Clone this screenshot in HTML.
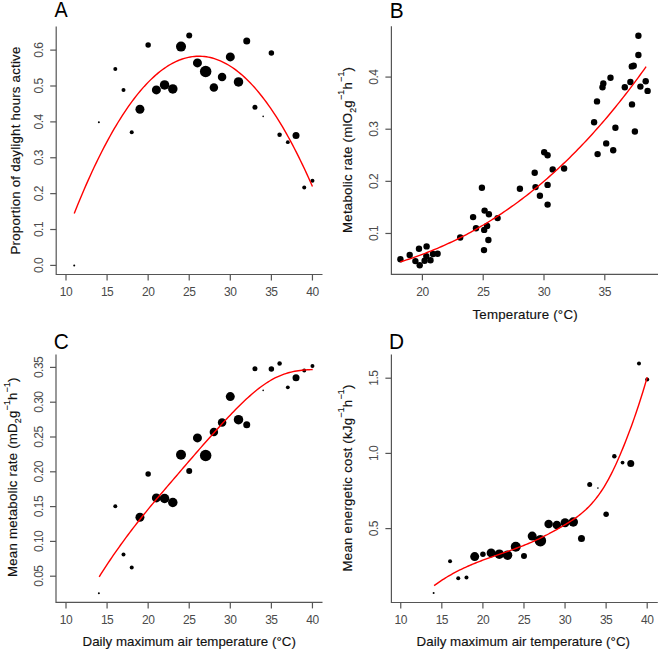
<!DOCTYPE html>
<html><head><meta charset="utf-8"><style>
html,body{margin:0;padding:0;background:#fff;}
body{width:660px;height:651px;overflow:hidden;font-family:"Liberation Sans", sans-serif;}
svg{display:block;}
svg text{font-family:"Liberation Sans", sans-serif;}
</style></head><body>
<svg width="660" height="651" viewBox="0 0 660 651">
<path d="M56.2,26.6 L56.2,274.5 L322.5,274.5" fill="none" stroke="#555" stroke-width="1.2"/>
<line x1="66.00" y1="274.5" x2="66.00" y2="280.5" stroke="#555" stroke-width="1.2"/>
<text x="66.00" y="296" font-size="12" letter-spacing="-0.5" text-anchor="middle" fill="#4a4a4a">10</text>
<line x1="107.08" y1="274.5" x2="107.08" y2="280.5" stroke="#555" stroke-width="1.2"/>
<text x="107.08" y="296" font-size="12" letter-spacing="-0.5" text-anchor="middle" fill="#4a4a4a">15</text>
<line x1="148.15" y1="274.5" x2="148.15" y2="280.5" stroke="#555" stroke-width="1.2"/>
<text x="148.15" y="296" font-size="12" letter-spacing="-0.5" text-anchor="middle" fill="#4a4a4a">20</text>
<line x1="189.22" y1="274.5" x2="189.22" y2="280.5" stroke="#555" stroke-width="1.2"/>
<text x="189.22" y="296" font-size="12" letter-spacing="-0.5" text-anchor="middle" fill="#4a4a4a">25</text>
<line x1="230.30" y1="274.5" x2="230.30" y2="280.5" stroke="#555" stroke-width="1.2"/>
<text x="230.30" y="296" font-size="12" letter-spacing="-0.5" text-anchor="middle" fill="#4a4a4a">30</text>
<line x1="271.38" y1="274.5" x2="271.38" y2="280.5" stroke="#555" stroke-width="1.2"/>
<text x="271.38" y="296" font-size="12" letter-spacing="-0.5" text-anchor="middle" fill="#4a4a4a">35</text>
<line x1="312.45" y1="274.5" x2="312.45" y2="280.5" stroke="#555" stroke-width="1.2"/>
<text x="312.45" y="296" font-size="12" letter-spacing="-0.5" text-anchor="middle" fill="#4a4a4a">40</text>
<line x1="50.2" y1="265.40" x2="56.2" y2="265.40" stroke="#555" stroke-width="1.2"/>
<text transform="translate(42.5,265.40) rotate(-90)" font-size="12" letter-spacing="-0.5" text-anchor="middle" fill="#4a4a4a">0.0</text>
<line x1="50.2" y1="229.52" x2="56.2" y2="229.52" stroke="#555" stroke-width="1.2"/>
<text transform="translate(42.5,229.52) rotate(-90)" font-size="12" letter-spacing="-0.5" text-anchor="middle" fill="#4a4a4a">0.1</text>
<line x1="50.2" y1="193.64" x2="56.2" y2="193.64" stroke="#555" stroke-width="1.2"/>
<text transform="translate(42.5,193.64) rotate(-90)" font-size="12" letter-spacing="-0.5" text-anchor="middle" fill="#4a4a4a">0.2</text>
<line x1="50.2" y1="157.76" x2="56.2" y2="157.76" stroke="#555" stroke-width="1.2"/>
<text transform="translate(42.5,157.76) rotate(-90)" font-size="12" letter-spacing="-0.5" text-anchor="middle" fill="#4a4a4a">0.3</text>
<line x1="50.2" y1="121.88" x2="56.2" y2="121.88" stroke="#555" stroke-width="1.2"/>
<text transform="translate(42.5,121.88) rotate(-90)" font-size="12" letter-spacing="-0.5" text-anchor="middle" fill="#4a4a4a">0.4</text>
<line x1="50.2" y1="86.00" x2="56.2" y2="86.00" stroke="#555" stroke-width="1.2"/>
<text transform="translate(42.5,86.00) rotate(-90)" font-size="12" letter-spacing="-0.5" text-anchor="middle" fill="#4a4a4a">0.5</text>
<line x1="50.2" y1="50.12" x2="56.2" y2="50.12" stroke="#555" stroke-width="1.2"/>
<text transform="translate(42.5,50.12) rotate(-90)" font-size="12" letter-spacing="-0.5" text-anchor="middle" fill="#4a4a4a">0.6</text>
<path d="M391.4,26.3 L391.4,274.3 L658,274.3" fill="none" stroke="#555" stroke-width="1.2"/>
<line x1="422.40" y1="274.3" x2="422.40" y2="280.3" stroke="#555" stroke-width="1.2"/>
<text x="422.40" y="296" font-size="12" letter-spacing="-0.5" text-anchor="middle" fill="#4a4a4a">20</text>
<line x1="483.20" y1="274.3" x2="483.20" y2="280.3" stroke="#555" stroke-width="1.2"/>
<text x="483.20" y="296" font-size="12" letter-spacing="-0.5" text-anchor="middle" fill="#4a4a4a">25</text>
<line x1="544.00" y1="274.3" x2="544.00" y2="280.3" stroke="#555" stroke-width="1.2"/>
<text x="544.00" y="296" font-size="12" letter-spacing="-0.5" text-anchor="middle" fill="#4a4a4a">30</text>
<line x1="604.80" y1="274.3" x2="604.80" y2="280.3" stroke="#555" stroke-width="1.2"/>
<text x="604.80" y="296" font-size="12" letter-spacing="-0.5" text-anchor="middle" fill="#4a4a4a">35</text>
<line x1="385.4" y1="233.47" x2="391.4" y2="233.47" stroke="#555" stroke-width="1.2"/>
<text transform="translate(378,233.47) rotate(-90)" font-size="12" letter-spacing="-0.5" text-anchor="middle" fill="#4a4a4a">0.1</text>
<line x1="385.4" y1="181.34" x2="391.4" y2="181.34" stroke="#555" stroke-width="1.2"/>
<text transform="translate(378,181.34) rotate(-90)" font-size="12" letter-spacing="-0.5" text-anchor="middle" fill="#4a4a4a">0.2</text>
<line x1="385.4" y1="129.21" x2="391.4" y2="129.21" stroke="#555" stroke-width="1.2"/>
<text transform="translate(378,129.21) rotate(-90)" font-size="12" letter-spacing="-0.5" text-anchor="middle" fill="#4a4a4a">0.3</text>
<line x1="385.4" y1="77.08" x2="391.4" y2="77.08" stroke="#555" stroke-width="1.2"/>
<text transform="translate(378,77.08) rotate(-90)" font-size="12" letter-spacing="-0.5" text-anchor="middle" fill="#4a4a4a">0.4</text>
<path d="M56.0,354.5 L56.0,602.4 L322.5,602.4" fill="none" stroke="#555" stroke-width="1.2"/>
<line x1="66.00" y1="602.4" x2="66.00" y2="608.4" stroke="#555" stroke-width="1.2"/>
<text x="66.00" y="624" font-size="12" letter-spacing="-0.5" text-anchor="middle" fill="#4a4a4a">10</text>
<line x1="107.08" y1="602.4" x2="107.08" y2="608.4" stroke="#555" stroke-width="1.2"/>
<text x="107.08" y="624" font-size="12" letter-spacing="-0.5" text-anchor="middle" fill="#4a4a4a">15</text>
<line x1="148.15" y1="602.4" x2="148.15" y2="608.4" stroke="#555" stroke-width="1.2"/>
<text x="148.15" y="624" font-size="12" letter-spacing="-0.5" text-anchor="middle" fill="#4a4a4a">20</text>
<line x1="189.22" y1="602.4" x2="189.22" y2="608.4" stroke="#555" stroke-width="1.2"/>
<text x="189.22" y="624" font-size="12" letter-spacing="-0.5" text-anchor="middle" fill="#4a4a4a">25</text>
<line x1="230.30" y1="602.4" x2="230.30" y2="608.4" stroke="#555" stroke-width="1.2"/>
<text x="230.30" y="624" font-size="12" letter-spacing="-0.5" text-anchor="middle" fill="#4a4a4a">30</text>
<line x1="271.38" y1="602.4" x2="271.38" y2="608.4" stroke="#555" stroke-width="1.2"/>
<text x="271.38" y="624" font-size="12" letter-spacing="-0.5" text-anchor="middle" fill="#4a4a4a">35</text>
<line x1="312.45" y1="602.4" x2="312.45" y2="608.4" stroke="#555" stroke-width="1.2"/>
<text x="312.45" y="624" font-size="12" letter-spacing="-0.5" text-anchor="middle" fill="#4a4a4a">40</text>
<line x1="50.0" y1="576.20" x2="56.0" y2="576.20" stroke="#555" stroke-width="1.2"/>
<text transform="translate(42.8,576.20) rotate(-90)" font-size="12" letter-spacing="-0.5" text-anchor="middle" fill="#4a4a4a">0.05</text>
<line x1="50.0" y1="541.40" x2="56.0" y2="541.40" stroke="#555" stroke-width="1.2"/>
<text transform="translate(42.8,541.40) rotate(-90)" font-size="12" letter-spacing="-0.5" text-anchor="middle" fill="#4a4a4a">0.10</text>
<line x1="50.0" y1="506.60" x2="56.0" y2="506.60" stroke="#555" stroke-width="1.2"/>
<text transform="translate(42.8,506.60) rotate(-90)" font-size="12" letter-spacing="-0.5" text-anchor="middle" fill="#4a4a4a">0.15</text>
<line x1="50.0" y1="471.80" x2="56.0" y2="471.80" stroke="#555" stroke-width="1.2"/>
<text transform="translate(42.8,471.80) rotate(-90)" font-size="12" letter-spacing="-0.5" text-anchor="middle" fill="#4a4a4a">0.20</text>
<line x1="50.0" y1="437.00" x2="56.0" y2="437.00" stroke="#555" stroke-width="1.2"/>
<text transform="translate(42.8,437.00) rotate(-90)" font-size="12" letter-spacing="-0.5" text-anchor="middle" fill="#4a4a4a">0.25</text>
<line x1="50.0" y1="402.20" x2="56.0" y2="402.20" stroke="#555" stroke-width="1.2"/>
<text transform="translate(42.8,402.20) rotate(-90)" font-size="12" letter-spacing="-0.5" text-anchor="middle" fill="#4a4a4a">0.30</text>
<line x1="50.0" y1="367.40" x2="56.0" y2="367.40" stroke="#555" stroke-width="1.2"/>
<text transform="translate(42.8,367.40) rotate(-90)" font-size="12" letter-spacing="-0.5" text-anchor="middle" fill="#4a4a4a">0.35</text>
<path d="M391.4,354.5 L391.4,602.5 L657.8,602.5" fill="none" stroke="#555" stroke-width="1.2"/>
<line x1="400.75" y1="602.5" x2="400.75" y2="608.5" stroke="#555" stroke-width="1.2"/>
<text x="400.75" y="624" font-size="12" letter-spacing="-0.5" text-anchor="middle" fill="#4a4a4a">10</text>
<line x1="441.82" y1="602.5" x2="441.82" y2="608.5" stroke="#555" stroke-width="1.2"/>
<text x="441.82" y="624" font-size="12" letter-spacing="-0.5" text-anchor="middle" fill="#4a4a4a">15</text>
<line x1="482.90" y1="602.5" x2="482.90" y2="608.5" stroke="#555" stroke-width="1.2"/>
<text x="482.90" y="624" font-size="12" letter-spacing="-0.5" text-anchor="middle" fill="#4a4a4a">20</text>
<line x1="523.98" y1="602.5" x2="523.98" y2="608.5" stroke="#555" stroke-width="1.2"/>
<text x="523.98" y="624" font-size="12" letter-spacing="-0.5" text-anchor="middle" fill="#4a4a4a">25</text>
<line x1="565.05" y1="602.5" x2="565.05" y2="608.5" stroke="#555" stroke-width="1.2"/>
<text x="565.05" y="624" font-size="12" letter-spacing="-0.5" text-anchor="middle" fill="#4a4a4a">30</text>
<line x1="606.12" y1="602.5" x2="606.12" y2="608.5" stroke="#555" stroke-width="1.2"/>
<text x="606.12" y="624" font-size="12" letter-spacing="-0.5" text-anchor="middle" fill="#4a4a4a">35</text>
<line x1="647.20" y1="602.5" x2="647.20" y2="608.5" stroke="#555" stroke-width="1.2"/>
<text x="647.20" y="624" font-size="12" letter-spacing="-0.5" text-anchor="middle" fill="#4a4a4a">40</text>
<line x1="385.4" y1="528.60" x2="391.4" y2="528.60" stroke="#555" stroke-width="1.2"/>
<text transform="translate(378.3,528.60) rotate(-90)" font-size="12" letter-spacing="-0.5" text-anchor="middle" fill="#4a4a4a">0.5</text>
<line x1="385.4" y1="453.40" x2="391.4" y2="453.40" stroke="#555" stroke-width="1.2"/>
<text transform="translate(378.3,453.40) rotate(-90)" font-size="12" letter-spacing="-0.5" text-anchor="middle" fill="#4a4a4a">1.0</text>
<line x1="385.4" y1="378.20" x2="391.4" y2="378.20" stroke="#555" stroke-width="1.2"/>
<text transform="translate(378.3,378.20) rotate(-90)" font-size="12" letter-spacing="-0.5" text-anchor="middle" fill="#4a4a4a">1.5</text>
<text transform="translate(54.6,16.8) scale(0.92,1)" font-size="21.5" fill="#000">A</text>
<text transform="translate(389.8,17.6) scale(0.97,1)" font-size="21.5" fill="#000">B</text>
<text transform="translate(53.8,348.6) scale(0.97,1)" font-size="21.5" fill="#000">C</text>
<text transform="translate(389.0,348.6) scale(0.97,1)" font-size="21.5" fill="#000">D</text>
<text transform="translate(20.1,254.5) rotate(-90)" font-size="13.3" letter-spacing="0.2" fill="#111" stroke="#111" stroke-width="0.15">Proportion of daylight hours active</text>
<text x="472.5" y="318.5" font-size="13.3" letter-spacing="0.2" fill="#111" stroke="#111" stroke-width="0.15">Temperature (°C)</text>
<text transform="translate(351.7,233) rotate(-90)" font-size="13.3" letter-spacing="0.22" fill="#111" stroke="#111" stroke-width="0.15"><tspan dy="0" dx="0">Metabolic rate (mlO</tspan><tspan font-size="8.8" dy="3.8">2</tspan><tspan dy="-3.8" dx="0">g</tspan><tspan font-size="8.8" dy="-7.5" dx="0.0">−1</tspan><tspan dy="7.5" dx="0.0">h</tspan><tspan font-size="8.8" dy="-7.5" dx="0.0">−1</tspan><tspan dy="7.5" dx="0.0">)</tspan></text>
<text transform="translate(17.3,577) rotate(-90)" font-size="13.3" letter-spacing="0.2" fill="#111" stroke="#111" stroke-width="0.15"><tspan dy="0" dx="0">Mean metabolic rate (mD</tspan><tspan font-size="8.8" dy="3.8">2</tspan><tspan dy="-3.8" dx="0">g</tspan><tspan font-size="8.8" dy="-7.5" dx="0.0">−1</tspan><tspan dy="7.5" dx="0.0">h</tspan><tspan font-size="8.8" dy="-7.5" dx="0.0">−1</tspan><tspan dy="7.5" dx="0.0">)</tspan></text>
<text x="82.5" y="645.7" font-size="13.3" letter-spacing="0.035" fill="#111" stroke="#111" stroke-width="0.15">Daily maximum air temperature (°C)</text>
<text transform="translate(351.7,571.5) rotate(-90)" font-size="13.3" letter-spacing="0.22" fill="#111" stroke="#111" stroke-width="0.15"><tspan dy="0" dx="0">Mean energetic cost (kJg</tspan><tspan font-size="8.8" dy="-7.5" dx="0.0">−1</tspan><tspan dy="7.5" dx="0.0">h</tspan><tspan font-size="8.8" dy="-7.5" dx="0.0">−1</tspan><tspan dy="7.5" dx="0.0">)</tspan></text>
<text x="416.6" y="645.7" font-size="13.3" letter-spacing="0.035" fill="#111" stroke="#111" stroke-width="0.15">Daily maximum air temperature (°C)</text>
<circle cx="74.22" cy="265.4" r="1.00"/>
<circle cx="98.86" cy="122.2" r="1.00"/>
<circle cx="115.29" cy="68.9" r="2.00"/>
<circle cx="123.50" cy="89.9" r="2.00"/>
<circle cx="131.72" cy="132.2" r="2.00"/>
<circle cx="139.94" cy="109.3" r="4.50"/>
<circle cx="148.15" cy="45" r="2.75"/>
<circle cx="156.37" cy="89.9" r="4.50"/>
<circle cx="164.58" cy="84.9" r="4.75"/>
<circle cx="172.80" cy="88.9" r="4.75"/>
<circle cx="181.01" cy="46.6" r="5.00"/>
<circle cx="189.22" cy="35.6" r="3.00"/>
<circle cx="197.44" cy="62.9" r="4.50"/>
<circle cx="205.66" cy="71.5" r="5.75"/>
<circle cx="213.87" cy="87.5" r="4.25"/>
<circle cx="222.09" cy="76.9" r="4.25"/>
<circle cx="230.30" cy="56.9" r="4.50"/>
<circle cx="238.51" cy="81.9" r="4.75"/>
<circle cx="246.73" cy="41" r="3.50"/>
<circle cx="254.94" cy="107.3" r="2.50"/>
<circle cx="263.16" cy="116.4" r="0.80"/>
<circle cx="271.38" cy="53.1" r="2.75"/>
<circle cx="279.59" cy="134.8" r="2.25"/>
<circle cx="287.81" cy="142.2" r="1.90"/>
<circle cx="296.02" cy="135.4" r="3.50"/>
<circle cx="304.24" cy="187.6" r="2.00"/>
<circle cx="312.45" cy="180.7" r="2.00"/>
<circle cx="98.86" cy="593.2" r="1.00"/>
<circle cx="115.29" cy="506.3" r="2.00"/>
<circle cx="123.50" cy="554.4" r="2.00"/>
<circle cx="131.72" cy="567.4" r="2.00"/>
<circle cx="139.94" cy="517.3" r="4.50"/>
<circle cx="148.15" cy="474" r="2.75"/>
<circle cx="156.37" cy="497.9" r="4.50"/>
<circle cx="164.58" cy="498.5" r="4.75"/>
<circle cx="172.80" cy="502.5" r="4.75"/>
<circle cx="181.01" cy="454.7" r="5.00"/>
<circle cx="189.22" cy="470.9" r="3.00"/>
<circle cx="197.44" cy="437.9" r="4.50"/>
<circle cx="205.66" cy="455.5" r="5.75"/>
<circle cx="213.87" cy="432" r="4.25"/>
<circle cx="222.09" cy="422.6" r="4.25"/>
<circle cx="230.30" cy="396.6" r="4.50"/>
<circle cx="238.51" cy="419.7" r="4.75"/>
<circle cx="246.73" cy="424.8" r="3.50"/>
<circle cx="254.94" cy="368.7" r="2.50"/>
<circle cx="263.16" cy="390.4" r="0.80"/>
<circle cx="271.38" cy="369.1" r="2.75"/>
<circle cx="279.59" cy="363.4" r="2.25"/>
<circle cx="287.81" cy="387.3" r="1.90"/>
<circle cx="296.02" cy="377.7" r="3.50"/>
<circle cx="304.24" cy="370.5" r="2.00"/>
<circle cx="312.45" cy="365.9" r="2.00"/>
<circle cx="433.61" cy="593.1" r="1.00"/>
<circle cx="450.04" cy="561.2" r="2.00"/>
<circle cx="458.25" cy="578.3" r="2.00"/>
<circle cx="466.47" cy="577.4" r="2.00"/>
<circle cx="474.69" cy="556.6" r="4.50"/>
<circle cx="482.90" cy="554.2" r="2.75"/>
<circle cx="491.12" cy="552.9" r="4.50"/>
<circle cx="499.33" cy="554.2" r="4.75"/>
<circle cx="507.55" cy="555.2" r="4.75"/>
<circle cx="515.76" cy="546.8" r="5.00"/>
<circle cx="523.98" cy="556.1" r="3.00"/>
<circle cx="532.19" cy="536.1" r="4.50"/>
<circle cx="540.40" cy="540.7" r="5.75"/>
<circle cx="548.62" cy="524.1" r="4.25"/>
<circle cx="556.84" cy="525" r="4.25"/>
<circle cx="565.05" cy="522.7" r="4.50"/>
<circle cx="573.26" cy="522" r="4.75"/>
<circle cx="581.48" cy="538.4" r="3.50"/>
<circle cx="589.69" cy="484.4" r="2.50"/>
<circle cx="597.91" cy="488.1" r="0.80"/>
<circle cx="606.12" cy="514.3" r="2.75"/>
<circle cx="614.34" cy="456.2" r="2.25"/>
<circle cx="622.56" cy="462.6" r="1.90"/>
<circle cx="630.77" cy="463.4" r="3.50"/>
<circle cx="638.99" cy="363.5" r="2.00"/>
<circle cx="647.20" cy="379.5" r="2.00"/>
<circle cx="400.4" cy="259.3" r="3.20"/>
<circle cx="409.7" cy="255" r="3.20"/>
<circle cx="419" cy="248.8" r="3.20"/>
<circle cx="426.6" cy="246.4" r="3.20"/>
<circle cx="415.4" cy="261.1" r="3.20"/>
<circle cx="419.7" cy="265.2" r="3.20"/>
<circle cx="424.6" cy="260.7" r="3.20"/>
<circle cx="426.3" cy="256.1" r="3.20"/>
<circle cx="430.5" cy="260.3" r="3.20"/>
<circle cx="433" cy="254" r="3.20"/>
<circle cx="437.6" cy="253.8" r="3.20"/>
<circle cx="460.2" cy="237.5" r="3.20"/>
<circle cx="473.1" cy="217.1" r="3.20"/>
<circle cx="476" cy="228.2" r="3.20"/>
<circle cx="481.9" cy="187.7" r="3.20"/>
<circle cx="484.6" cy="210.6" r="3.20"/>
<circle cx="488.9" cy="214.3" r="3.20"/>
<circle cx="497.6" cy="218.1" r="3.20"/>
<circle cx="487.1" cy="225.9" r="3.20"/>
<circle cx="484.2" cy="229.9" r="3.20"/>
<circle cx="488.4" cy="240" r="3.20"/>
<circle cx="484" cy="250.1" r="3.20"/>
<circle cx="519.9" cy="188.7" r="3.20"/>
<circle cx="534.7" cy="172.8" r="3.20"/>
<circle cx="535.5" cy="187.1" r="3.20"/>
<circle cx="539.9" cy="195.7" r="3.20"/>
<circle cx="544.2" cy="152.2" r="3.20"/>
<circle cx="547.6" cy="155.2" r="3.20"/>
<circle cx="552.7" cy="169.4" r="3.20"/>
<circle cx="564.1" cy="168.5" r="3.20"/>
<circle cx="547.6" cy="184.9" r="3.20"/>
<circle cx="547.6" cy="204.6" r="3.20"/>
<circle cx="597" cy="101.4" r="3.20"/>
<circle cx="594.1" cy="122.2" r="3.20"/>
<circle cx="597.6" cy="154.1" r="3.20"/>
<circle cx="602.5" cy="87.3" r="3.20"/>
<circle cx="603.3" cy="83.5" r="3.20"/>
<circle cx="606.2" cy="143.4" r="3.20"/>
<circle cx="610.5" cy="77.7" r="3.20"/>
<circle cx="613.2" cy="150.2" r="3.20"/>
<circle cx="615.4" cy="127.8" r="3.20"/>
<circle cx="624.8" cy="87.2" r="3.20"/>
<circle cx="630.4" cy="82" r="3.20"/>
<circle cx="631.8" cy="66.4" r="3.20"/>
<circle cx="633.7" cy="65.7" r="3.20"/>
<circle cx="632" cy="104.4" r="3.20"/>
<circle cx="634.9" cy="131.5" r="3.20"/>
<circle cx="638.4" cy="35.7" r="3.20"/>
<circle cx="638.4" cy="55" r="3.20"/>
<circle cx="640.4" cy="86.6" r="3.20"/>
<circle cx="645.7" cy="81.2" r="3.20"/>
<circle cx="647.6" cy="90.9" r="3.20"/>
<path d="M74.22,213.48 L76.22,208.47 L78.22,203.54 L80.22,198.69 L82.22,193.93 L84.22,189.24 L86.23,184.64 L88.23,180.12 L90.23,175.68 L92.23,171.32 L94.23,167.04 L96.24,162.84 L98.24,158.72 L100.24,154.69 L102.24,150.73 L104.24,146.86 L106.25,143.06 L108.25,139.35 L110.25,135.72 L112.25,132.17 L114.25,128.70 L116.26,125.32 L118.26,122.01 L120.26,118.79 L122.26,115.64 L124.26,112.58 L126.27,109.60 L128.27,106.69 L130.27,103.87 L132.27,101.14 L134.27,98.48 L136.28,95.90 L138.28,93.41 L140.28,90.99 L142.28,88.66 L144.28,86.40 L146.29,84.23 L148.29,82.14 L150.29,80.13 L152.29,78.20 L154.29,76.36 L156.30,74.59 L158.30,72.91 L160.30,71.30 L162.30,69.78 L164.30,68.34 L166.31,66.97 L168.31,65.70 L170.31,64.50 L172.31,63.38 L174.31,62.34 L176.32,61.39 L178.32,60.51 L180.32,59.72 L182.32,59.01 L184.32,58.37 L186.33,57.82 L188.33,57.35 L190.33,56.97 L192.33,56.66 L194.33,56.43 L196.34,56.29 L198.34,56.22 L200.34,56.24 L202.34,56.34 L204.34,56.52 L206.35,56.78 L208.35,57.12 L210.35,57.54 L212.35,58.04 L214.35,58.63 L216.36,59.29 L218.36,60.04 L220.36,60.87 L222.36,61.78 L224.36,62.77 L226.37,63.84 L228.37,64.99 L230.37,66.22 L232.37,67.54 L234.37,68.93 L236.37,70.41 L238.38,71.96 L240.38,73.60 L242.38,75.32 L244.38,77.12 L246.38,79.00 L248.39,80.97 L250.39,83.01 L252.39,85.13 L254.39,87.34 L256.39,89.63 L258.40,91.99 L260.40,94.44 L262.40,96.97 L264.40,99.58 L266.40,102.27 L268.41,105.05 L270.41,107.90 L272.41,110.84 L274.41,113.85 L276.41,116.95 L278.42,120.13 L280.42,123.39 L282.42,126.73 L284.42,130.15 L286.42,133.65 L288.43,137.24 L290.43,140.90 L292.43,144.65 L294.43,148.47 L296.43,152.38 L298.44,156.37 L300.44,160.44 L302.44,164.59 L304.44,168.82 L306.44,173.13 L308.45,177.53 L310.45,182.00 L312.45,186.56" fill="none" stroke="#f00" stroke-width="1.4"/>
<path d="M400.30,261.89 L402.37,261.24 L404.43,260.58 L406.50,259.91 L408.56,259.23 L410.63,258.54 L412.69,257.83 L414.76,257.11 L416.82,256.37 L418.89,255.62 L420.96,254.86 L423.02,254.09 L425.09,253.30 L427.15,252.50 L429.22,251.68 L431.28,250.85 L433.35,250.01 L435.41,249.15 L437.48,248.28 L439.55,247.40 L441.61,246.49 L443.68,245.58 L445.74,244.65 L447.81,243.70 L449.87,242.75 L451.94,241.77 L454.00,240.78 L456.07,239.78 L458.14,238.75 L460.20,237.72 L462.27,236.67 L464.33,235.60 L466.40,234.52 L468.46,233.42 L470.53,232.30 L472.59,231.17 L474.66,230.02 L476.73,228.86 L478.79,227.68 L480.86,226.48 L482.92,225.27 L484.99,224.03 L487.05,222.79 L489.12,221.52 L491.18,220.24 L493.25,218.94 L495.32,217.62 L497.38,216.29 L499.45,214.93 L501.51,213.56 L503.58,212.18 L505.64,210.77 L507.71,209.35 L509.77,207.90 L511.84,206.44 L513.91,204.96 L515.97,203.47 L518.04,201.95 L520.10,200.41 L522.17,198.86 L524.23,197.29 L526.30,195.69 L528.36,194.08 L530.43,192.45 L532.49,190.80 L534.56,189.13 L536.63,187.44 L538.69,185.73 L540.76,184.00 L542.82,182.25 L544.89,180.48 L546.95,178.69 L549.02,176.88 L551.08,175.05 L553.15,173.20 L555.22,171.32 L557.28,169.43 L559.35,167.52 L561.41,165.58 L563.48,163.62 L565.54,161.65 L567.61,159.65 L569.67,157.63 L571.74,155.58 L573.81,153.52 L575.87,151.43 L577.94,149.32 L580.00,147.19 L582.07,145.04 L584.13,142.87 L586.20,140.67 L588.26,138.45 L590.33,136.21 L592.40,133.94 L594.46,131.65 L596.53,129.34 L598.59,127.01 L600.66,124.65 L602.72,122.27 L604.79,119.86 L606.85,117.43 L608.92,114.98 L610.99,112.51 L613.05,110.01 L615.12,107.48 L617.18,104.93 L619.25,102.36 L621.31,99.76 L623.38,97.14 L625.44,94.50 L627.51,91.83 L629.58,89.13 L631.64,86.41 L633.71,83.67 L635.77,80.90 L637.84,78.10 L639.90,75.28 L641.97,72.43 L644.03,69.56 L646.10,66.66" fill="none" stroke="#f00" stroke-width="1.4"/>
<path d="M99.20,576.85 L100.99,573.99 L102.79,571.18 L104.58,568.39 L106.38,565.64 L108.17,562.93 L109.96,560.24 L111.76,557.59 L113.55,554.97 L115.35,552.38 L117.14,549.82 L118.94,547.28 L120.73,544.77 L122.52,542.29 L124.32,539.84 L126.11,537.41 L127.91,535.00 L129.70,532.62 L131.49,530.26 L133.29,527.92 L135.08,525.60 L136.88,523.30 L138.67,521.02 L140.46,518.76 L142.26,516.51 L144.05,514.29 L145.85,512.07 L147.64,509.87 L149.44,507.68 L151.23,505.51 L153.02,503.35 L154.82,501.20 L156.61,499.06 L158.41,496.93 L160.20,494.80 L161.99,492.69 L163.79,490.58 L165.58,488.47 L167.38,486.38 L169.17,484.28 L170.96,482.19 L172.76,480.10 L174.55,478.01 L176.35,475.93 L178.14,473.84 L179.94,471.75 L181.73,469.66 L183.52,467.58 L185.32,465.49 L187.11,463.41 L188.91,461.32 L190.70,459.24 L192.49,457.17 L194.29,455.09 L196.08,453.02 L197.88,450.96 L199.67,448.90 L201.46,446.84 L203.26,444.80 L205.05,442.75 L206.85,440.72 L208.64,438.69 L210.44,436.67 L212.23,434.66 L214.02,432.66 L215.82,430.67 L217.61,428.69 L219.41,426.72 L221.20,424.76 L222.99,422.81 L224.79,420.88 L226.58,418.95 L228.38,417.05 L230.17,415.15 L231.96,413.28 L233.76,411.42 L235.55,409.59 L237.35,407.78 L239.14,405.99 L240.94,404.23 L242.73,402.49 L244.52,400.79 L246.32,399.11 L248.11,397.47 L249.91,395.87 L251.70,394.30 L253.49,392.77 L255.29,391.28 L257.08,389.83 L258.88,388.42 L260.67,387.06 L262.46,385.75 L264.26,384.48 L266.05,383.26 L267.85,382.10 L269.64,380.99 L271.44,379.93 L273.23,378.93 L275.02,377.99 L276.82,377.11 L278.61,376.29 L280.41,375.53 L282.20,374.83 L283.99,374.18 L285.79,373.58 L287.58,373.04 L289.38,372.54 L291.17,372.09 L292.96,371.68 L294.76,371.31 L296.55,370.99 L298.35,370.71 L300.14,370.46 L301.94,370.24 L303.73,370.06 L305.52,369.91 L307.32,369.79 L309.11,369.69 L310.91,369.62 L312.70,369.57" fill="none" stroke="#f00" stroke-width="1.4"/>
<path d="M434.10,585.65 L435.53,584.60 L436.96,583.57 L438.39,582.57 L439.82,581.59 L441.25,580.64 L442.68,579.70 L444.11,578.79 L445.54,577.90 L446.97,577.02 L448.40,576.17 L449.83,575.34 L451.26,574.52 L452.69,573.72 L454.12,572.94 L455.55,572.18 L456.98,571.43 L458.41,570.70 L459.84,569.99 L461.27,569.29 L462.70,568.60 L464.13,567.93 L465.56,567.27 L466.99,566.63 L468.42,565.99 L469.86,565.37 L471.29,564.76 L472.72,564.16 L474.15,563.57 L475.58,562.99 L477.01,562.42 L478.44,561.86 L479.87,561.30 L481.30,560.75 L482.73,560.21 L484.16,559.68 L485.59,559.15 L487.02,558.63 L488.45,558.11 L489.88,557.60 L491.31,557.09 L492.74,556.59 L494.17,556.08 L495.60,555.58 L497.03,555.08 L498.46,554.59 L499.89,554.09 L501.32,553.59 L502.75,553.10 L504.18,552.60 L505.61,552.10 L507.04,551.60 L508.47,551.09 L509.90,550.59 L511.33,550.08 L512.76,549.56 L514.19,549.04 L515.62,548.52 L517.05,547.99 L518.48,547.45 L519.91,546.91 L521.34,546.36 L522.77,545.80 L524.20,545.24 L525.63,544.66 L527.06,544.08 L528.49,543.49 L529.92,542.88 L531.35,542.27 L532.78,541.64 L534.21,541.00 L535.64,540.35 L537.07,539.69 L538.50,539.02 L539.93,538.33 L541.37,537.64 L542.80,536.93 L544.23,536.22 L545.66,535.49 L547.09,534.75 L548.52,534.00 L549.95,533.24 L551.38,532.48 L552.81,531.70 L554.24,530.91 L555.67,530.12 L557.10,529.31 L558.53,528.50 L559.96,527.68 L561.39,526.85 L562.82,526.01 L564.25,525.17 L565.68,524.31 L567.11,523.45 L568.54,522.57 L569.97,521.67 L571.40,520.75 L572.83,519.81 L574.26,518.84 L575.69,517.84 L577.12,516.81 L578.55,515.74 L579.98,514.63 L581.41,513.48 L582.84,512.28 L584.27,511.03 L585.70,509.73 L587.13,508.37 L588.56,506.96 L589.99,505.48 L591.42,503.93 L592.85,502.32 L594.28,500.64 L595.71,498.88 L597.14,497.04 L598.57,495.12 L600.00,493.11 L601.43,491.02 L602.86,488.84 L604.29,486.56 L605.72,484.19 L607.15,481.71 L608.58,479.13 L610.01,476.44 L611.44,473.65 L612.88,470.74 L614.31,467.75 L615.74,464.67 L617.17,461.50 L618.60,458.27 L620.03,454.97 L621.46,451.59 L622.89,448.14 L624.32,444.62 L625.75,441.02 L627.18,437.35 L628.61,433.61 L630.04,429.79 L631.47,425.90 L632.90,421.93 L634.33,417.87 L635.76,413.73 L637.19,409.51 L638.62,405.19 L640.05,400.79 L641.48,396.28 L642.91,391.67 L644.34,386.97 L645.77,382.15 L647.20,377.23" fill="none" stroke="#f00" stroke-width="1.4"/>
</svg>
</body></html>
